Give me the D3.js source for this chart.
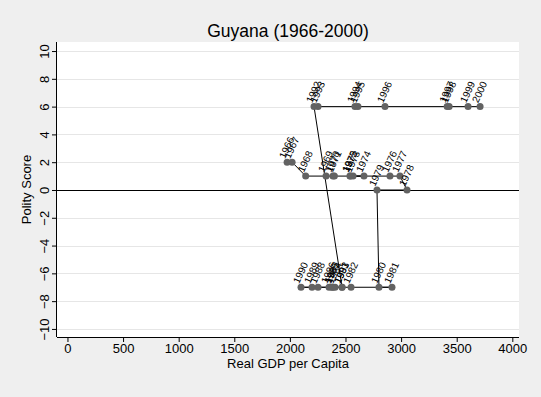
<!DOCTYPE html>
<html><head><meta charset="utf-8">
<script src="https://cdn.jsdelivr.net/npm/d3@7"></script>
<style>
html,body{margin:0;padding:0;background:#efefef;}
svg{display:block;font-family:"Liberation Sans",Arial,sans-serif;}
</style></head>
<body><svg id="c" width="541" height="397"></svg>
<script>
const years = [1966,1967,1968,1969,1970,1971,1972,1973,1974,1975,1976,1977,1978,1979,1980,1981,1982,1983,1984,1985,1986,1987,1988,1989,1990,1991,1992,1993,1994,1995,1996,1997,1998,1999,2000];
const gdp = [1975,2020,2142,2325,2387,2400,2545,2568,2666,2540,2900,2990,3053,2783,2801,2918,2550,2469,2406,2379,2352,2385,2253,2199,2100,2469,2217,2253,2585,2612,2855,3414,3432,3602,3710];
const polity = [2,2,1,1,1,1,1,1,1,1,1,1,0,0,-7,-7,-7,-7,-7,-7,-7,-7,-7,-7,-7,-7,6,6,6,6,6,6,6,6,6];
const xTicks = [0,500,1000,1500,2000,2500,3000,3500,4000];
const yTicks = [-10,-8,-6,-4,-2,0,2,4,6,8,10];
const title = "Guyana (1966-2000)";
const xTitle = "Real GDP per Capita";
const yTitle = "Polity Score";

const data = years.map((y,i)=>({year:y, x:gdp[i], y:polity[i]}));
const svg = d3.select("#c");
const L=57, R=519, T=42, B=337;
const x = d3.scaleLinear().domain([-94,4060]).range([L,R]);
const y = d3.scaleLinear().domain([-10.58,10.65]).range([B,T]);

svg.append("rect").attr("x",0).attr("y",0).attr("width",541).attr("height",397).attr("fill","#efefef");
svg.append("rect").attr("x",L).attr("y",T).attr("width",R-L).attr("height",B-T).attr("fill","#fff");

// gridlines
svg.append("g").selectAll("line").data(yTicks).join("line")
  .attr("x1",L).attr("x2",R).attr("y1",d=>Math.round(y(d))+0.5).attr("y2",d=>Math.round(y(d))+0.5)
  .attr("stroke","#e6e6e6").attr("stroke-width",1);

// yline(0)
svg.append("line").attr("x1",L).attr("x2",R).attr("y1",Math.round(y(0))+0.5).attr("y2",Math.round(y(0))+0.5)
  .attr("stroke","#000").attr("stroke-width",1);

// axes
const yAxis = d3.axisLeft(y).tickValues(yTicks).tickSize(5).tickFormat(d3.format("d"));
const gy = svg.append("g").attr("transform",`translate(${L},0)`).call(yAxis);
gy.select(".domain").attr("d",`M-0.5,${B}V${T}`).attr("stroke","#000");
gy.selectAll(".tick line").attr("stroke","#000");
gy.selectAll(".tick text").attr("font-size",13).attr("fill","#000")
  .attr("font-family","'Liberation Sans',Arial,sans-serif")
  .attr("transform","rotate(-90)").attr("x",0).attr("y",-8).attr("dy","0").attr("text-anchor","middle");

const xAxis = d3.axisBottom(x).tickValues(xTicks).tickSize(5).tickFormat(d3.format("d"));
const gx = svg.append("g").attr("transform",`translate(0,${B})`).call(xAxis);
gx.select(".domain").attr("d",`M${L},0.5H${R}`).attr("stroke","#000");
gx.selectAll(".tick line").attr("stroke","#000");
gx.selectAll(".tick text").attr("font-size",13).attr("fill","#000")
  .attr("font-family","'Liberation Sans',Arial,sans-serif").attr("y",7);

// connecting line
svg.append("path").datum(data)
  .attr("d",d3.line().x(d=>x(d.x)).y(d=>y(d.y)))
  .attr("fill","none").attr("stroke","#000").attr("stroke-width",1);

// markers
svg.append("g").selectAll("circle").data(data).join("circle")
  .attr("cx",d=>x(d.x)).attr("cy",d=>y(d.y)).attr("r",3.5).attr("fill","#626262");

// labels
svg.append("g").selectAll("text").data(data).join("text")
  .attr("transform",d=>`translate(${x(d.x)-2},${y(d.y)-3}) rotate(-65)`)
  .attr("font-size",10).attr("fill","#000").text(d=>d.year);

// titles
svg.append("text").attr("x",(L+R)/2).attr("y",37).attr("text-anchor","middle")
  .attr("font-size",17.5).attr("fill","#000").text(title);
svg.append("text").attr("x",(L+R)/2).attr("y",368).attr("text-anchor","middle")
  .attr("font-size",13).attr("fill","#000").text(xTitle);
svg.append("text").attr("transform",`translate(31,${(T+B)/2}) rotate(-90)`).attr("text-anchor","middle")
  .attr("font-size",13).attr("fill","#000").text(yTitle);
</script></body></html>
